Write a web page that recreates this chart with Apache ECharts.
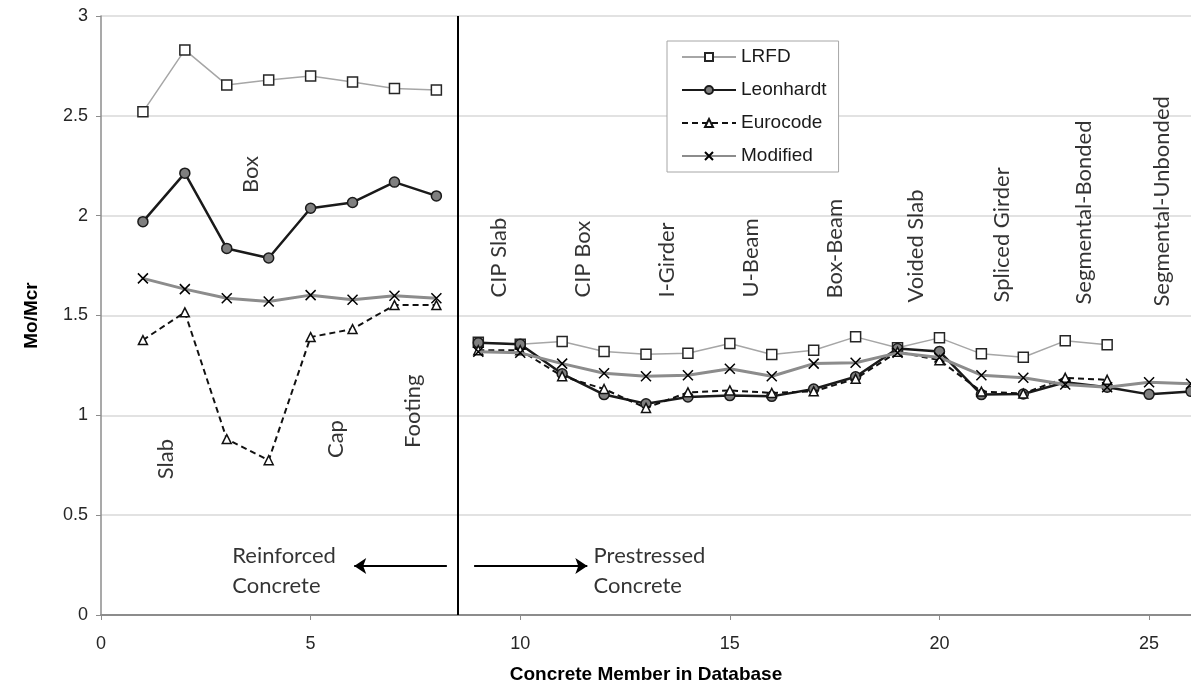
<!DOCTYPE html>
<html>
<head>
<meta charset="utf-8">
<title>Mo/Mcr by concrete member</title>
<script src="https://cdn.jsdelivr.net/npm/echarts@6/dist/echarts.min.js"></script>
<style>
  html, body { margin: 0; padding: 0; background: #fff; }
  #chart { width: 1191px; height: 698px; }
</style>
</head>
<body>
<div id="chart"></div>
<script>
// Member numbers: reinforced concrete (1-8) and prestressed concrete (9-26)
const memberRC = [1, 2, 3, 4, 5, 6, 7, 8];
const memberPS = [9, 10, 11, 12, 13, 14, 15, 16, 17, 18, 19, 20, 21, 22, 23, 24, 25, 26];

// Mo/Mcr ratios per method
const lrfdRC = [2.52, 2.83, 2.655, 2.68, 2.70, 2.67, 2.637, 2.63];
const lrfdPS = [1.366, 1.356, 1.370, 1.320, 1.306, 1.311, 1.360, 1.305, 1.326, 1.393, 1.338, 1.388, 1.308, 1.291, 1.373, 1.353];
const leonhardtRC = [1.97, 2.213, 1.836, 1.788, 2.037, 2.066, 2.168, 2.099];
const leonhardtPS = [1.364, 1.356, 1.208, 1.104, 1.058, 1.092, 1.099, 1.095, 1.132, 1.193, 1.335, 1.320, 1.104, 1.107, 1.166, 1.141, 1.105, 1.12];
const eurocodeRC = [1.377, 1.516, 0.881, 0.775, 1.392, 1.432, 1.552, 1.552];
const eurocodePS = [1.326, 1.326, 1.196, 1.132, 1.037, 1.115, 1.125, 1.112, 1.12, 1.183, 1.318, 1.276, 1.119, 1.109, 1.188, 1.178];
const modifiedRC = [1.686, 1.632, 1.586, 1.570, 1.602, 1.579, 1.599, 1.586];
const modifiedPS = [1.318, 1.313, 1.259, 1.211, 1.196, 1.201, 1.233, 1.196, 1.259, 1.263, 1.313, 1.29, 1.201, 1.188, 1.154, 1.141, 1.166, 1.158];

// Boundary between the two member groups
const groupBoundary = 8.5;

// Member type labels: text, member position, ratio at the start of the text
const typeNames = ['Slab', 'Box', 'Cap', 'Footing', 'CIP Slab', 'CIP Box', 'I-Girder', 'U-Beam', 'Box-Beam', 'Voided Slab', 'Spliced Girder', 'Segmental-Bonded', 'Segmental-Unbonded'];
const typeX = [1.54, 3.58, 5.6, 7.45, 9.5, 11.5, 13.5, 15.5, 17.5, 19.45, 21.5, 23.45, 25.3];
const typeY = [0.68, 2.113, 0.786, 0.836, 1.59, 1.59, 1.59, 1.59, 1.585, 1.565, 1.565, 1.555, 1.545];

// Group captions and their arrows
const groupNames = ['Reinforced\nConcrete', 'Prestressed\nConcrete'];
const groupX = [3.13, 11.75];
const groupY = [0.22, 0.22];
const arrowFrom = [[8.25, 0.245], [8.9, 0.245]];
const arrowTo = [[6.04, 0.245], [11.6, 0.245]];

// Axis ticks
const xTicks = { min: 0, max: 26, interval: 5 };
const yTicks = { min: 0, max: 3, interval: 0.5 };

function pairs(xs, ys) {
  return ys.map((y, i) => [xs[i], y]);
}
function joinGroups(rc, ps) {
  return pairs(memberRC, rc).concat([[groupBoundary, '-']], pairs(memberPS, ps));
}

const axisFont = 'Liberation Sans, Arial, sans-serif';
const noteFont = 'Lato, Open Sans, sans-serif';

const chart = echarts.init(document.getElementById('chart'), null, { renderer: 'canvas' });

chart.setOption({
  animation: false,
  backgroundColor: '#ffffff',
  grid: { left: 101, right: -7, top: 16, bottom: 83, containLabel: false },
  legend: {
    data: ['LRFD', 'Leonhardt', 'Eurocode', 'Modified'],
    orient: 'vertical',
    left: 667,
    top: 41,
    padding: [5, 12, 5, 14],
    itemWidth: 54,
    itemHeight: 10,
    itemGap: 11,
    backgroundColor: '#ffffff',
    borderColor: '#a6a6a6',
    borderWidth: 1,
    textStyle: { fontFamily: axisFont, fontSize: 19, color: '#1a1a1a', lineHeight: 22 }
  },
  xAxis: {
    type: 'value',
    min: xTicks.min,
    max: xTicks.max,
    interval: xTicks.interval,
    name: 'Concrete Member in Database',
    nameLocation: 'middle',
    nameGap: 50,
    nameTextStyle: { fontFamily: axisFont, fontSize: 19, fontWeight: 'bold', color: '#000' },
    axisLine: { show: true, lineStyle: { color: '#8c8c8c', width: 2 } },
    axisTick: { show: true, length: 5, lineStyle: { color: '#8c8c8c' } },
    axisLabel: { fontFamily: axisFont, fontSize: 18, color: '#262626', margin: 20, showMaxLabel: false },
    splitLine: { show: false }
  },
  yAxis: {
    type: 'value',
    min: yTicks.min,
    max: yTicks.max,
    interval: yTicks.interval,
    name: 'Mo/Mcr',
    nameLocation: 'middle',
    nameGap: 60,
    nameTextStyle: { fontFamily: axisFont, fontSize: 19, fontWeight: 'bold', color: '#000' },
    axisLine: { show: true, lineStyle: { color: '#8c8c8c', width: 1.5 } },
    axisTick: { show: true, length: 5, lineStyle: { color: '#8c8c8c' } },
    axisLabel: { fontFamily: axisFont, fontSize: 18, color: '#262626', margin: 13 },
    splitLine: { show: true, lineStyle: { color: '#d9d9d9', width: 1.5 } }
  },
  series: [
    {
      name: 'LRFD',
      type: 'line',
      data: joinGroups(lrfdRC, lrfdPS),
      symbol: 'rect',
      symbolSize: 10,
      showAllSymbol: true,
      lineStyle: { color: '#a6a6a6', width: 1.5 },
      itemStyle: { color: '#ffffff', borderColor: '#262626', borderWidth: 1.5 },
      z: 2,
      markLine: {
        silent: true,
        symbol: ['none', 'none'],
        label: { show: false },
        lineStyle: { color: '#000', width: 2, type: 'solid' },
        data: [{ xAxis: groupBoundary }]
      }
    },
    {
      name: 'Leonhardt',
      type: 'line',
      data: joinGroups(leonhardtRC, leonhardtPS),
      symbol: 'circle',
      symbolSize: 10,
      showAllSymbol: true,
      lineStyle: { color: '#1a1a1a', width: 2.5 },
      itemStyle: { color: '#7f7f7f', borderColor: '#1a1a1a', borderWidth: 1.5 },
      z: 3
    },
    {
      name: 'Eurocode',
      type: 'line',
      data: joinGroups(eurocodeRC, eurocodePS),
      symbol: 'triangle',
      symbolSize: 9,
      showAllSymbol: true,
      lineStyle: { color: '#111', width: 2, type: [6, 4] },
      itemStyle: { color: '#ffffff', borderColor: '#111', borderWidth: 1.5 },
      z: 4
    },
    {
      name: 'Modified',
      type: 'line',
      data: joinGroups(modifiedRC, modifiedPS),
      symbol: 'path://M0,0L10,10M10,0L0,10',
      symbolSize: 10,
      showAllSymbol: true,
      lineStyle: { color: '#8c8c8c', width: 3 },
      itemStyle: { color: '#000', borderColor: '#000', borderWidth: 1.5 },
      z: 5
    },
    {
      name: 'types',
      type: 'scatter',
      silent: true,
      symbolSize: 0,
      z: 6,
      data: typeNames.map((n, i) => ({ name: n, value: [typeX[i], typeY[i]] })),
      label: {
        show: true,
        position: 'inside',
        formatter: '{b}',
        rotate: 90,
        align: 'left',
        verticalAlign: 'middle',
        fontFamily: noteFont,
        fontSize: 22,
        color: '#000'
      }
    },
    {
      name: 'groups',
      type: 'scatter',
      silent: true,
      symbolSize: 0,
      z: 6,
      data: groupNames.map((n, i) => ({ name: n, value: [groupX[i], groupY[i]] })),
      label: {
        show: true,
        position: 'inside',
        formatter: '{b}',
        align: 'left',
        verticalAlign: 'middle',
        fontFamily: noteFont,
        fontSize: 22,
        lineHeight: 30,
        color: '#000'
      },
      markLine: {
        silent: true,
        symbol: ['none', 'arrow'],
        symbolSize: 12,
        label: { show: false },
        lineStyle: { color: '#000', width: 2, type: 'solid' },
        data: arrowFrom.map((f, i) => [{ coord: f }, { coord: arrowTo[i] }])
      }
    }
  ]
});
</script>
</body>
</html>
